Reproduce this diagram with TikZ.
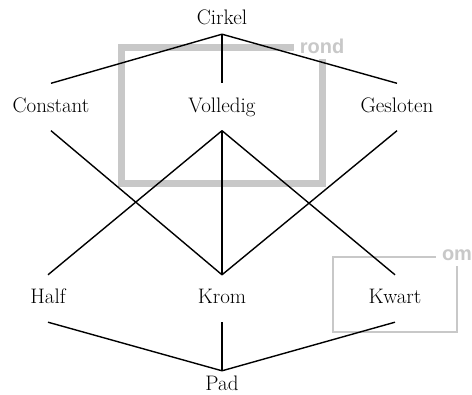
\documentclass[tikz,border=0pt]{standalone}
\usepackage{fontspec}
\newfontfamily\grouplabelfont{Liberation Sans}
\usetikzlibrary{positioning}
\definecolor{groupgray}{RGB}{200,200,200}
\tikzset{concept/.style={font=\rmfamily\fontsize{21}{25}\selectfont,text height=16pt,text depth=5pt,inner xsep=2pt,inner ysep=13pt},
         extreme/.style={concept,inner ysep=4pt},
         link/.style={line width=1.4pt},
         group/.style={draw=groupgray},
         grouplabel/.style={fill=white,text=groupgray,inner sep=6pt,font=\grouplabelfont\bfseries\fontsize{20}{24}\selectfont},
         }
\begin{document}
\begin{tikzpicture}[x=1pt,y=-1pt]
\useasboundingbox (0,0) rectangle (472,395);
% the two groups, behind the lattice
\draw[group,line width=7pt] (121,48) rectangle (322,184);
\node[grouplabel] (rond) at (322,46) {rond};
\draw[group,line width=2pt] (333,257) rectangle (457,332);
\node[grouplabel] (om) at (457,255) {om};
% concepts
\node[extreme] (cirkel) at (222,19.5) {Cirkel};
\node[concept] (constant) at (51,107) {Constant};
\node[concept] (volledig) at (222,107) {Volledig};
\node[concept] (gesloten) at (397,107) {Gesloten};
\node[concept] (half) at (48,298.5) {Half};
\node[concept] (krom) at (222,298.5) {Krom};
\node[concept] (kwart) at (395,298.5) {Kwart};
\node[extreme] (pad) at (222,385.5) {Pad};
% order
\foreach \n in {constant,volledig,gesloten}
  \draw[link] (cirkel.south) -- (\n.north);
\foreach \n in {half,krom,kwart}
  \draw[link] (volledig.south) -- (\n.north);
\draw[link] (constant.south) -- (krom.north);
\draw[link] (gesloten.south) -- (krom.north);
\foreach \n in {half,krom,kwart}
  \draw[link] (\n.south) -- (pad.north);
\end{tikzpicture}
\end{document}
